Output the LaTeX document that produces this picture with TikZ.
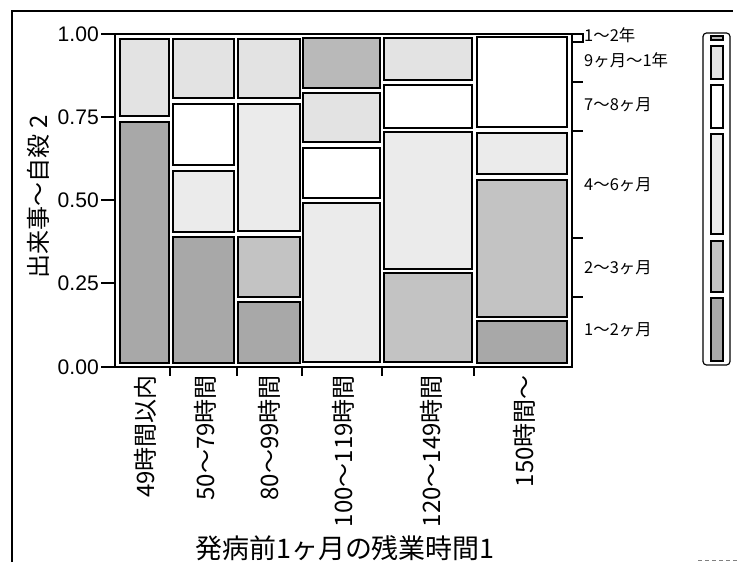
\documentclass[tikz,border=0pt]{standalone}
\usepackage{fontspec}
\setmainfont{Liberation Sans}
\newfontfamily\jpfont{Noto Sans CJK JP}

\begin{document}
\begin{tikzpicture}[
		x=0.03cm, y=-0.03cm,
		every node/.append style={
			inner sep=0pt,
			text=black,
		},
		cell/.style={draw=black, line width=1.3pt},
		darkcell/.style={cell, fill=gray!68},
		midcell/.style={cell, fill=gray!47},
		lightcell/.style={cell, fill=gray!16},
		palecell/.style={cell, fill=gray!22},
		whitecell/.style={cell, fill=white},
		yearcell/.style={cell, fill=gray!55},
		axis/.style={draw=black, line width=1.1pt},
		ticklabel/.style={anchor=east, font=\fontsize{18}{18}\selectfont},
		catlabel/.style={anchor=west, font=\jpfont\fontsize{14}{14}\selectfont},
		collabel/.style={anchor=east, rotate=90, font=\jpfont\fontsize{20.5}{20.5}\selectfont},
	]
	\useasboundingbox (0,0) rectangle (737,562);
	% outer frame
	\draw[line width=1pt] (12,562) -- (12,11) -- (733,11);
	\draw[gray, dashed, line width=.6pt] (698,560) -- (737,560);
	% plot frame and axes
	\draw[axis] (115,34) rectangle (572,367);
	\draw[axis] (101,34) -- (115,34);
	\draw[axis] (101,117) -- (115,117);
	\draw[axis] (101,200) -- (115,200);
	\draw[axis] (101,283) -- (115,283);
	\draw[axis] (101,367) -- (115,367);
	\node[ticklabel] (y100) at (99,34) {1.00};
	\node[ticklabel] (y075) at (99,117) {0.75};
	\node[ticklabel] (y050) at (99,200) {0.50};
	\node[ticklabel] (y025) at (99,283) {0.25};
	\node[ticklabel] (y000) at (99,367) {0.00};
	\node[rotate=90, font=\jpfont\fontsize{20.5}{20.5}\selectfont] (ytitle) at (38,197) {出来事〜自殺 2};
	% columns, bottom ticks between them
	\draw[axis] (170,367) -- (170,376);
	\draw[axis] (237,367) -- (237,376);
	\draw[axis] (302,367) -- (302,376);
	\draw[axis] (382,367) -- (382,376);
	\draw[axis] (474,367) -- (474,376);
	% 49 hours or less
	\draw[palecell] (120,39) rectangle (169,116);
	\draw[darkcell] (120,122) rectangle (169,363);
	% 50 to 79
	\draw[palecell] (173,39) rectangle (234,98);
	\draw[whitecell] (173,104) rectangle (234,165);
	\draw[lightcell] (173,171) rectangle (234,232);
	\draw[darkcell] (173,237) rectangle (234,363);
	% 80 to 99
	\draw[palecell] (238,39) rectangle (300,98);
	\draw[lightcell] (238,104) rectangle (300,231);
	\draw[midcell] (238,237) rectangle (300,297);
	\draw[darkcell] (238,302) rectangle (300,363);
	% 100 to 119
	\draw[yearcell] (303,38) rectangle (380,88);
	\draw[palecell] (303,93) rectangle (380,142);
	\draw[whitecell] (303,148) rectangle (380,198);
	\draw[lightcell] (303,203) rectangle (380,362);
	% 120 to 149
	\draw[palecell] (384,38) rectangle (472,80);
	\draw[whitecell] (384,85) rectangle (472,128);
	\draw[lightcell] (384,132) rectangle (472,269);
	\draw[midcell] (384,273) rectangle (472,362);
	% 150 or more
	\draw[whitecell] (477,37) rectangle (567,127);
	\draw[lightcell] (477,133) rectangle (567,174);
	\draw[midcell] (477,180) rectangle (567,317);
	\draw[darkcell] (477,321) rectangle (567,363);
	% column labels
	\node[collabel] (c49) at (145,375) {49時間以内};
	\node[collabel] (c50) at (205,375) {50〜79時間};
	\node[collabel] (c80) at (269,375) {80〜99時間};
	\node[collabel] (c100) at (343,375) {100〜119時間};
	\node[collabel] (c120) at (431,375) {120〜149時間};
	\node[collabel] (c150) at (524,375) {150時間〜};
	\node[font=\jpfont\fontsize{23}{23}\selectfont] (xtitle) at (345,548) {発病前1ヶ月の残業時間1};
	% right axis
	\draw[axis] (572,34) -- (583,34) -- (583,42) -- (572,42);
	\draw[axis] (572,82) -- (583,82);
	\draw[axis] (572,131) -- (583,131);
	\draw[axis] (572,238) -- (583,238);
	\draw[axis] (572,297) -- (583,297);
	\node[catlabel] (r12y) at (584,35) {1〜2年};
	\node[catlabel] (r9m) at (584,60) {9ヶ月〜1年};
	\node[catlabel] (r78) at (584,105) {7〜8ヶ月};
	\node[catlabel] (r46) at (584,185) {4〜6ヶ月};
	\node[catlabel] (r23) at (584,268) {2〜3ヶ月};
	\node[catlabel] (r12) at (584,330) {1〜2ヶ月};
	% legend
	\draw[line width=1pt, rounded corners=3pt] (703,33) rectangle (730,365);
	\draw[yearcell, line width=1pt] (711,36) rectangle (723,40);
	\draw[palecell, line width=1pt] (711,46) rectangle (723,79);
	\draw[whitecell, line width=1pt] (711,85) rectangle (723,128);
	\draw[lightcell, line width=1pt] (711,134) rectangle (723,234);
	\draw[midcell, line width=1pt] (711,241) rectangle (723,292);
	\draw[darkcell, line width=1pt] (711,298) rectangle (723,361);
\end{tikzpicture}
\end{document}
